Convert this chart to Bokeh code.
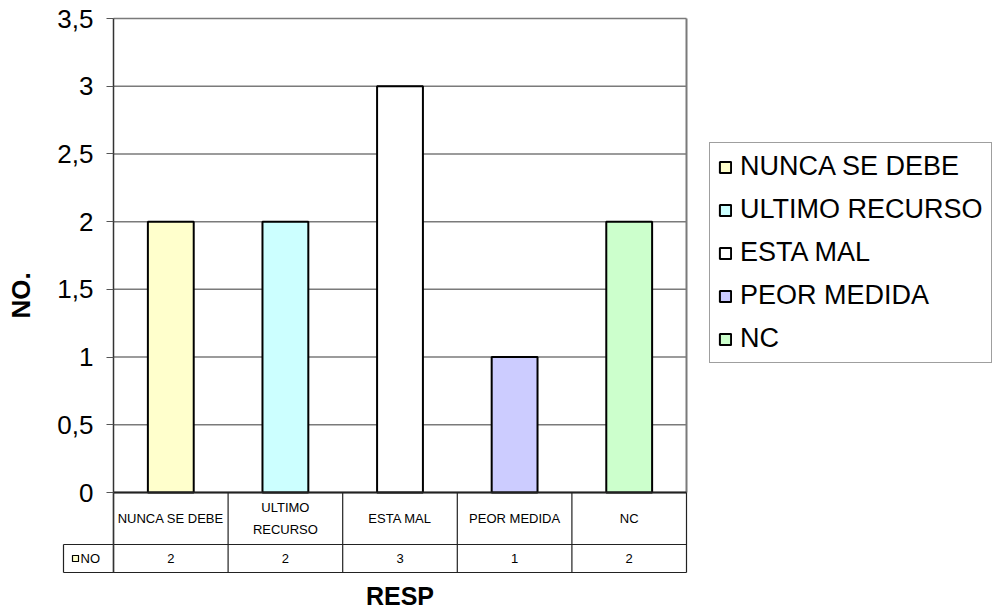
from bokeh.plotting import figure
from bokeh.models import (Range1d, FixedTicker, Legend, LegendItem, ColumnDataSource)
from bokeh.core.properties import value
from bokeh.embed import file_html
from bokeh.resources import INLINE

# ---------------- data ----------------
categories = ["NUNCA SE DEBE", "ULTIMO RECURSO", "ESTA MAL", "PEOR MEDIDA", "NC"]
table_labels = ["NUNCA SE DEBE", "ULTIMO\nRECURSO", "ESTA MAL", "PEOR MEDIDA", "NC"]
counts = [2, 2, 3, 1, 2]
colors = ["#FFFFCC", "#CCFFFF", "#FFFFFF", "#CCCCFF", "#CCFFCC"]
y_ticks = [0, 0.5, 1, 1.5, 2, 2.5, 3, 3.5]
y_tick_labels = ["0", "0,5", "1", "1,5", "2", "2,5", "3", "3,5"]
series_name = "NO"
x_title = "RESP"
y_title = "NO."

# ---------------- layout (pixels) ----------------
FONT = "Liberation Sans"
W, H = 998, 612
AXIS_X = 113.0                       # pixel x of the value axis
cat_w = (686.0 - AXIS_X) / 5         # px per category column
Y_TOP_PX, Y_ZERO_PX = 18.0, 492.0
n = len(categories)
y_top = y_ticks[-1]
py = (Y_ZERO_PX - Y_TOP_PX) / y_top  # px per y unit
y_end = y_top + Y_TOP_PX / py
y_start = y_end - H / py
y_bottom = -(572.0 - Y_ZERO_PX) / py     # bottom of the data table
row1 = -(544.0 - Y_ZERO_PX) / py         # boundary between the two table rows
x_start = -AXIS_X / cat_w
x_end = x_start + W / cat_w
hdr_left = -(AXIS_X - 63.0) / cat_w      # left edge of the row-header cell

p = figure(width=W, height=H, output_backend="svg", toolbar_location=None,
           x_range=Range1d(x_start, x_end), y_range=Range1d(y_start, y_end),
           x_axis_location=None,
           min_border_left=0, min_border_right=0,
           min_border_top=0, min_border_bottom=0,
           background_fill_color="white", border_fill_color="white")
p.outline_line_color = None
p.xgrid.visible = False
p.ygrid.visible = False

# value axis, fixed at x = 0 (left edge of the plot area)
yax = p.yaxis[0]
yax.fixed_location = 0
yax.bounds = (y_bottom, y_top)
yax.ticker = FixedTicker(ticks=y_ticks)
yax.major_label_overrides = {t: l for t, l in zip(y_ticks, y_tick_labels)}
yax.major_label_text_font = FONT
yax.major_label_text_font_size = "26px"
yax.major_label_text_color = "black"
yax.major_label_standoff = 13
yax.major_tick_out = 7
yax.major_tick_in = 0
yax.minor_tick_line_color = None
yax.axis_line_color = "#333333"
yax.axis_line_width = 1.5
yax.major_tick_line_color = "#555555"
yax.axis_label = y_title
yax.axis_label_text_font = FONT
yax.axis_label_text_font_size = "26px"
yax.axis_label_text_font_style = "bold"
yax.axis_label_text_color = "black"
yax.axis_label_standoff = 18

# grid lines and plot-area border (0 .. n)
m = len(y_ticks)
p.segment(x0=[0] * m, y0=y_ticks, x1=[n] * m, y1=y_ticks,
          line_color="#7a7a7a", line_width=1.5)
p.segment(x0=[n], y0=[0], x1=[n], y1=[y_top], line_color="#7a7a7a", line_width=2)

# bars
xs = [i + 0.5 for i in range(n)]
src = ColumnDataSource(dict(x=xs, top=counts, color=colors, cat=categories,
                            tlabel=table_labels,
                            vlabel=[str(c) for c in counts]))
bars = p.vbar(x="x", top="top", bottom=0, width=0.4, fill_color="color",
              line_color="black", line_width=2, source=src)

# data table under the chart
bounds = list(range(n + 1))
p.segment(x0=bounds, y0=[0] * (n + 1), x1=bounds, y1=[y_bottom] * (n + 1),
          line_color="#222222", line_width=1.2)
p.segment(x0=[0, hdr_left, hdr_left, hdr_left],
          y0=[0, row1, y_bottom, row1],
          x1=[n, n, n, hdr_left],
          y1=[0, row1, y_bottom, y_bottom],
          line_color="#222222", line_width=[1.8, 1.2, 1.2, 1.2])
p.text(x="x", y=row1 / 2, text="tlabel", source=src, text_align="center",
       text_baseline="middle", text_font=value(FONT), text_font_size="13px",
       text_line_height=1.45, text_color="black")
ymid = (row1 + y_bottom) / 2
p.text(x="x", y=ymid, text="vlabel", source=src,
       text_align="center", text_baseline="middle", text_font=value(FONT),
       text_font_size="13px", text_color="black")

# row header: series key + name
p.quad(left=[-41 / cat_w], right=[-35 / cat_w],
       top=[ymid + 3 / py], bottom=[ymid - 3 / py],
       fill_color=colors[0], line_color="black", line_width=1.2)
p.text(x=[-33 / cat_w], y=[ymid], text=[series_name], text_align="left",
       text_baseline="middle", text_font=value(FONT), text_font_size="13px",
       text_color="black")

# category axis title
p.text(x=[n / 2], y=[-(595.5 - Y_ZERO_PX) / py], text=[x_title],
       text_align="center", text_baseline="middle", text_font=value(FONT),
       text_font_size="25px", text_font_style="bold", text_color="black")

# legend (right of the plot area)
items = [LegendItem(label=c, renderers=[bars], index=i) for i, c in enumerate(categories)]
legend = Legend(items=items, location=(709, H - 363), margin=0,
                padding=8, spacing=12, label_height=30, glyph_width=14,
                glyph_height=14, label_standoff=8, label_text_font=FONT,
                label_text_font_size="27px", label_text_color="black",
                border_line_color="#404040", border_line_width=1,
                background_fill_color="white")
p.add_layout(legend)

open("out.html", "w").write(file_html(p, INLINE))
